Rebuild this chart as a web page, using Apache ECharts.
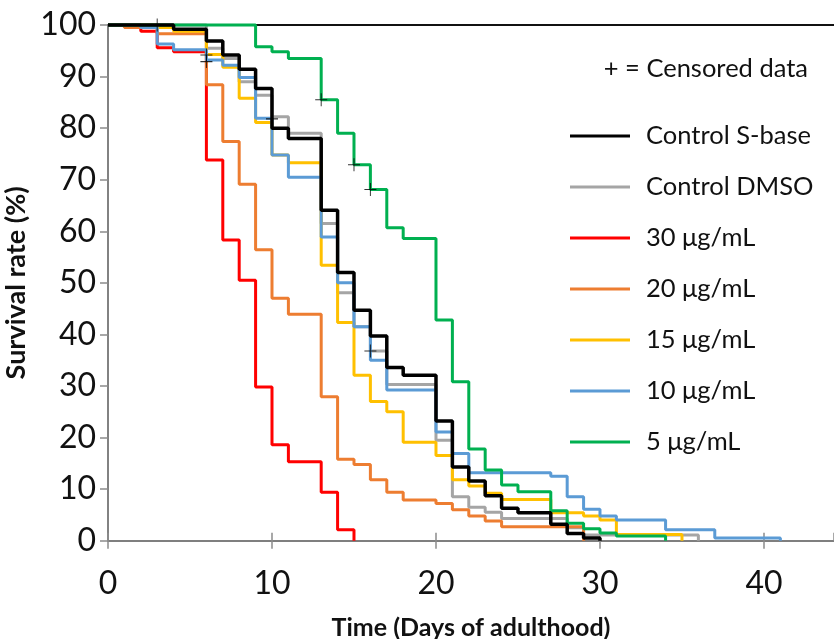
<!DOCTYPE html>
<html><head><meta charset="utf-8">
<script src="https://cdn.jsdelivr.net/npm/echarts@6/dist/echarts.min.js"></script>
<style>html,body{margin:0;padding:0;background:#fff}#c{width:834px;height:639px}</style>
</head><body><div id="c"></div>
<script>
// Kaplan-Meier survival data: [day, survival %]
const controlSbase = [[0,100],[4,99.2],[6,96.9],[7,94.2],[8,91.4],[9,87.7],[10,80.0],[11,78.0],[13,64.1],[14,52.0],[15,44.7],[16,39.7],[17,33.6],[18,32.1],[20,23.2],[21,14.3],[22,11.6],[23,8.7],[24,6.3],[25,5.4],[27,3.2],[28,1.4],[29,0.5],[30,0]];
const controlDMSO  = [[0,100],[6,95.5],[7,93.5],[8,89.0],[9,86.4],[10,82.2],[11,79.0],[13,61.5],[14,48.1],[15,41.5],[16,36.8],[17,30.3],[20,19.5],[21,8.5],[22,6.5],[23,5.5],[24,4.3],[28,2.5],[29,1.1],[36,0]];
const conc30 = [[0,100],[2,98.8],[3,95.6],[4,94.8],[6,73.8],[7,58.3],[8,50.5],[9,29.8],[10,18.6],[11,15.3],[13,9.4],[14,2.1],[15,0]];
const conc20 = [[0,100],[1,99.5],[3,98.3],[6,88.4],[7,77.4],[8,69.1],[9,56.4],[10,47.0],[11,43.9],[13,27.9],[14,15.8],[15,14.8],[16,11.8],[17,9.4],[18,7.9],[20,7.2],[21,6.0],[22,4.8],[23,3.8],[24,2.7],[29,0]];
const conc15 = [[0,100],[3,99.5],[4,98.8],[6,94.3],[7,91.8],[8,85.8],[9,81.1],[10,74.8],[11,73.3],[13,53.4],[14,42.3],[15,32.1],[16,27.0],[17,25.0],[18,19.1],[20,16.5],[21,11.8],[22,10.6],[23,9.2],[24,8.0],[27,5.4],[29,4.8],[30,4.0],[31,1.2],[35,0]];
const conc10 = [[0,100],[2,99.5],[3,96.3],[4,95.2],[6,93.2],[7,92.2],[8,89.8],[9,81.9],[10,74.8],[11,70.5],[13,58.9],[14,50.0],[15,41.5],[16,35.0],[17,29.2],[20,21.1],[21,16.9],[22,13.2],[27,12.5],[28,8.5],[29,6.1],[30,4.8],[31,4.0],[34,2.1],[37,0.5],[41,0]];
const conc5  = [[0,100],[9,95.8],[10,94.8],[11,93.5],[13,85.5],[14,79.0],[15,72.9],[16,68.1],[17,60.7],[18,58.6],[20,42.8],[21,30.8],[22,17.8],[23,13.7],[24,10.8],[25,9.5],[27,5.8],[28,3.4],[29,2.3],[30,1.5],[31,0.9],[34,0]];
const censored = [[3,100],[6,94.2],[6,92.9],[10,81.8],[13,85.5],[15,72.9],[16,68.1],[16,36.8]];

const legendNames = ['Control S-base','Control DMSO','30 μg/mL','20 μg/mL','15 μg/mL','10 μg/mL','5 μg/mL'];
const legendColors = ['#000000','#A5A5A5','#FF0000','#ED7D31','#FFC000','#5B9BD5','#00B050'];
const legendData = [controlSbase, controlDMSO, conc30, conc20, conc15, conc10, conc5];
const drawOrder = [1,2,3,4,5,6,0]; // black drawn last (on top)
const xTickValues = [0,10,20,30,40];
const yTickValues = [0,10,20,30,40,50,60,70,80,90,100];
const xMax = 44.27; // visible part of the axis (picture is cut at the right)

const FONT = 'Lato';
const chart = echarts.init(document.getElementById('c'), null, {renderer:'canvas'});

const series = drawOrder.map(i => ({
  name: legendNames[i], type: 'line', step: 'end', data: legendData[i],
  showSymbol: false, symbol: 'none', animation: false, clip: false,
  lineStyle: {color: legendColors[i], width: i === 0 ? 3.5 : 3},
  itemStyle: {color: legendColors[i]}
}));
series.push({
  name: 'censored', type: 'scatter', data: censored, animation: false,
  symbol: 'path://M0,-10 L0,10 M-10,0 L10,0', symbolSize: [12, 13],
  itemStyle: {color: 'rgba(0,0,0,0)', borderColor: '#000', borderWidth: 1},
  z: 5
});

const labelStyle = {fontFamily: FONT, fontSize: 32, color: '#111'};
const tickFmt = arr => v => arr.includes(v) ? String(v) : '';

chart.setOption({
  animation: false,
  backgroundColor: '#fff',
  title: {
    text: '+ = Censored data', right: 26, top: 56, padding: 0,
    textStyle: {fontFamily: FONT, fontSize: 25.5, fontWeight: 'normal', color: '#111'}
  },
  legend: {
    data: legendNames, orient: 'vertical', left: 570, top: 123, padding: 0,
    icon: 'rect', itemWidth: 60, itemHeight: 3, itemGap: 25,
    textStyle: {fontFamily: FONT, fontSize: 25.5, color: '#111', lineHeight: 25, padding: [0,0,0,11]}
  },
  grid: {left: 108, top: 25, right: 0, height: 515.7, containLabel: false, outerBoundsMode: 'none'},
  xAxis: [{
    type: 'value', min: 0, max: xMax, interval: 10, position: 'bottom',
    axisLine: {show: true, onZero: false, lineStyle: {color: '#7f7f7f', width: 2}},
    axisTick: {show: true, length: 8, lineStyle: {color: '#8c8c8c', width: 1.5}},
    axisLabel: Object.assign({margin: 27, showMaxLabel: false, formatter: tickFmt(xTickValues)}, labelStyle),
    splitLine: {show: false},
    name: 'Time (Days of adulthood)', nameLocation: 'middle', nameGap: 75,
    nameTextStyle: {fontFamily: FONT, fontSize: 25, fontWeight: 'bold', color: '#111'}
  }, {
    type: 'value', min: 0, max: xMax, interval: 10, position: 'top',
    axisLine: {show: true, onZero: false, lineStyle: {color: '#111', width: 2}},
    axisTick: {show: false}, axisLabel: {show: false}, splitLine: {show: false}
  }, {
    type: 'value', min: 0, max: xMax, interval: 10, position: 'bottom',
    axisLine: {show: false, onZero: false},
    axisTick: {show: true, inside: true, length: 8, lineStyle: {color: '#8c8c8c', width: 1.5}},
    axisLabel: {show: false}, splitLine: {show: false}
  }],
  yAxis: {
    type: 'value', min: 0, max: 100, interval: 10,
    axisLine: {show: true, lineStyle: {color: '#595959', width: 1.5}},
    axisTick: {show: true, length: 8, lineStyle: {color: '#8c8c8c', width: 1.5}},
    axisLabel: Object.assign({margin: 12, formatter: tickFmt(yTickValues)}, labelStyle),
    splitLine: {show: false},
    name: 'Survival rate (%)', nameLocation: 'middle', nameGap: 70,
    nameTextStyle: {fontFamily: FONT, fontSize: 27, fontWeight: 'bold', color: '#111'}
  },
  series: series
});
</script>
</body></html>
